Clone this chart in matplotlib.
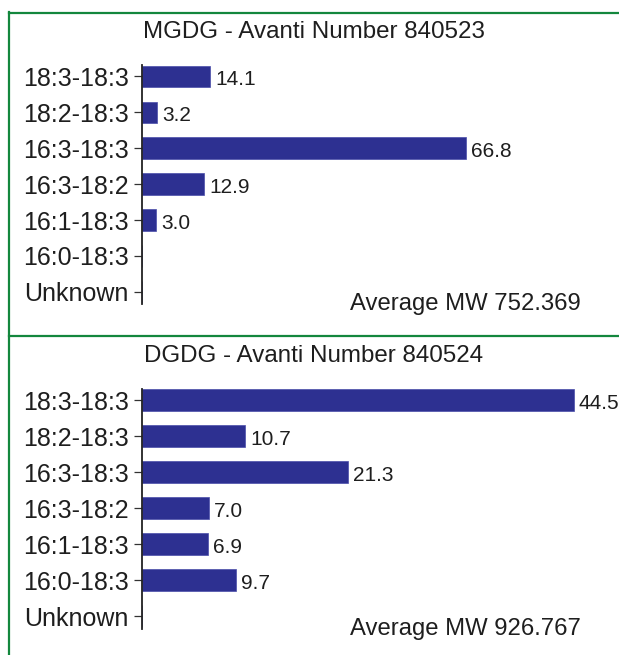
import matplotlib
matplotlib.use("Agg")
import matplotlib.pyplot as plt
from matplotlib.lines import Line2D

plt.rcParams['font.family'] = ['Liberation Sans', 'DejaVu Sans']

species = ['18:3-18:3', '18:2-18:3', '16:3-18:3', '16:3-18:2', '16:1-18:3', '16:0-18:3', 'Unknown']
mgdg_values = [14.1, 3.2, 66.8, 12.9, 3.0, 0, 0]
dgdg_values = [44.5, 10.7, 21.3, 7.0, 6.9, 9.7, 0]
mgdg_title = 'MGDG - Avanti Number 840523'
dgdg_title = 'DGDG - Avanti Number 840524'
mgdg_mw = 'Average MW 752.369'
dgdg_mw = 'Average MW 926.767'

W, H = 619, 655
bar_color = '#2d3091'
green = '#13873d'
txt = '#1e1e1e'

fig = plt.figure(figsize=(W / 100, H / 100), dpi=100)


def px(x0, y0, x1, y1):
    # pixel box (top-left origin) -> figure fraction rect
    return [x0 / W, 1 - y1 / H, (x1 - x0) / W, (y1 - y0) / H]


def panel(rect, values, xmax, ylim):
    ax = fig.add_axes(rect)
    ypos = list(range(len(species)))
    ax.barh(ypos, values, height=0.6, color=bar_color, edgecolor='#4a4daa', linewidth=0.5)
    for y, v in zip(ypos, values):
        if v > 0:
            ax.annotate(f'{v:.1f}', (v, y), xytext=(3.5, -1), textcoords='offset points',
                        va='center_baseline', ha='left', fontsize=15, color=txt,
                        annotation_clip=False)
    ax.set_xlim(0, xmax)
    ax.set_ylim(*ylim)
    ax.set_yticks(ypos)
    ax.set_yticklabels(species, fontsize=18, color=txt)
    ax.tick_params(axis='y', length=6, width=0.9, pad=3, color='#333333')
    ax.set_xticks([])
    for s in ['top', 'right', 'bottom']:
        ax.spines[s].set_visible(False)
    ax.spines['left'].set_linewidth(1.3)
    ax.spines['left'].set_color('#222222')
    ax.patch.set_alpha(0)
    return ax


panel(px(141.5, 65, 600, 304), mgdg_values, 458.5 / 4.86, (6.34, -0.32))
panel(px(141.5, 388.5, 600, 629), dgdg_values, 458.5 / 9.71, (6.36, -0.32))

# titles and molecular weights
fig.text(314 / W, 1 - 37.5 / H, mgdg_title, ha='center', va='baseline', fontsize=17.4, color=txt)
fig.text(314 / W, 1 - 362 / H, dgdg_title, ha='center', va='baseline', fontsize=17.4, color=txt)
fig.text(581 / W, 1 - 310 / H, mgdg_mw, ha='right', va='baseline', fontsize=17.2, color=txt)
fig.text(581 / W, 1 - 635 / H, dgdg_mw, ha='right', va='baseline', fontsize=17.2, color=txt)

# green panel frames
lw = 1.6
fig.add_artist(Line2D([9 / W, 9 / W], [1 - 12 / H, 0], color=green, lw=lw))
fig.add_artist(Line2D([9 / W, 1], [1 - 12.5 / H, 1 - 12.5 / H], color=green, lw=lw))
fig.add_artist(Line2D([9 / W, 1], [1 - 336 / H, 1 - 336 / H], color=green, lw=lw))

fig.savefig('out.png', dpi=100, facecolor='white')
